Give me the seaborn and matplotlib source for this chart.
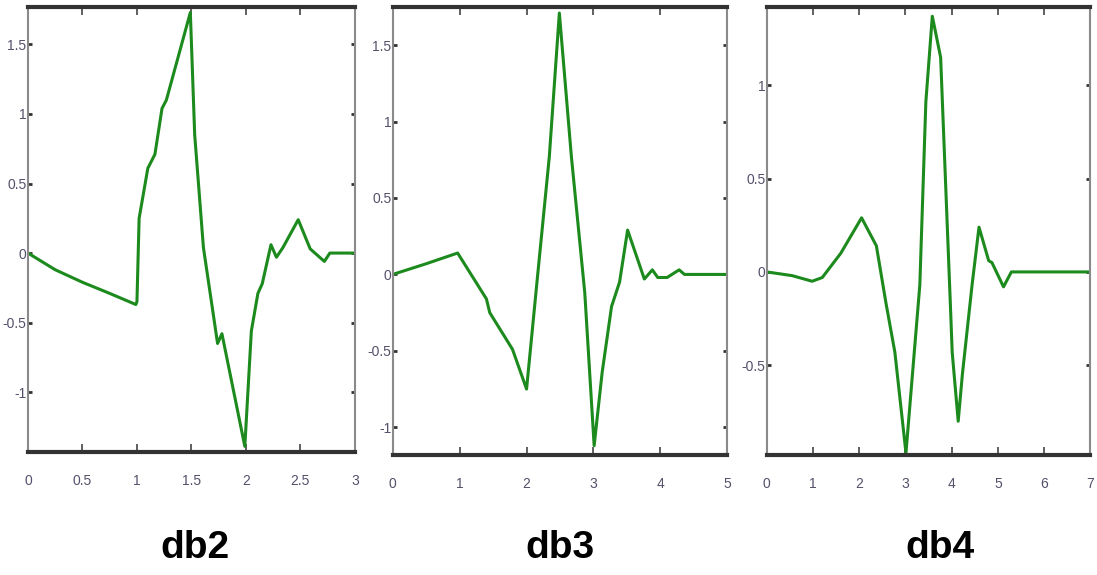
import pandas as pd
import matplotlib
matplotlib.use('Agg')
import matplotlib.pyplot as plt
import seaborn as sns

# db2 wavelet
db2_x = [0.0, 0.25, 0.5, 0.75, 0.99, 1.0, 1.02, 1.10, 1.165, 1.23, 1.27, 1.49,
         1.53, 1.61, 1.74, 1.78, 1.99, 2.05, 2.11, 2.15, 2.23, 2.28, 2.34, 2.48,
         2.59, 2.72, 2.77, 3.0]
db2_y = [0.0, -0.12, -0.21, -0.29, -0.37, -0.35, 0.25, 0.61, 0.71, 1.04, 1.10, 1.73,
         0.85, 0.04, -0.65, -0.58, -1.39, -0.56, -0.29, -0.22, 0.06, -0.03, 0.04, 0.24,
         0.03, -0.06, 0.0, 0.0]

# db3 wavelet
db3_x = [0.0, 0.5, 0.97, 1.40, 1.45, 1.79, 2.0, 2.16, 2.34, 2.49, 2.67, 2.87,
         3.01, 3.13, 3.27, 3.39, 3.51, 3.76, 3.88, 3.96, 4.10, 4.28, 4.36, 5.0]
db3_y = [0.0, 0.07, 0.14, -0.16, -0.25, -0.49, -0.75, -0.03, 0.77, 1.71, 0.77, -0.12,
         -1.12, -0.64, -0.21, -0.05, 0.29, -0.03, 0.03, -0.02, -0.02, 0.03, 0.0, 0.0]

# db4 wavelet
db4_x = [0.0, 0.55, 0.98, 1.2, 1.6, 2.05, 2.37, 2.58, 2.77, 3.01, 3.31, 3.44,
         3.58, 3.76, 3.97, 4.01, 4.14, 4.23, 4.44, 4.59, 4.80, 4.87, 5.12, 5.29, 7.0]
db4_y = [0.0, -0.02, -0.05, -0.03, 0.10, 0.29, 0.14, -0.17, -0.43, -0.97, -0.07, 0.91,
         1.37, 1.15, -0.17, -0.43, -0.80, -0.55, -0.07, 0.24, 0.06, 0.05, -0.08, 0.0, 0.0]

names = ['db2', 'db3', 'db4']
xs = [db2_x, db3_x, db4_x]
ys = [db2_y, db3_y, db4_y]
xlims = [(0, 3), (0, 5), (0, 7)]
ylims = [(-1.43, 1.77), (-1.18, 1.75), (-0.98, 1.42)]
xticks = [[0, 0.5, 1, 1.5, 2, 2.5, 3], [0, 1, 2, 3, 4, 5], [0, 1, 2, 3, 4, 5, 6, 7]]
yticks = [[-1, -0.5, 0, 0.5, 1, 1.5], [-1, -0.5, 0, 0.5, 1, 1.5], [-0.5, 0, 0.5, 1]]
boxes = [(0.0255, 0.214, 0.298, 0.774), (0.358, 0.209, 0.305, 0.779), (0.699, 0.209, 0.295, 0.779)]
title_x = [195, 560, 940]

sns.set_style('white')
plt.rcParams['font.family'] = ['Liberation Sans', 'DejaVu Sans']

fig = plt.figure(figsize=(10.97, 5.75), dpi=100)

for i in range(3):
    ax = fig.add_axes(boxes[i])
    df = pd.DataFrame({'x': xs[i], 'y': ys[i]})
    sns.lineplot(data=df, x='x', y='y', ax=ax, color='#1c8a1c', linewidth=2.2,
                 sort=False, estimator=None)
    ax.set_xlim(*xlims[i])
    ax.set_ylim(*ylims[i])
    ax.set_xticks(xticks[i])
    ax.set_yticks(yticks[i])
    ax.set_xticklabels(['%g' % v for v in xticks[i]])
    ax.set_yticklabels(['%g' % v for v in yticks[i]])
    ax.set_xlabel('')
    ax.set_ylabel('')
    ax.tick_params(axis='x', direction='in', length=6, width=1.2, color='#444444',
                   top=True, bottom=True, labelsize=10, labelcolor='#55506a', pad=16)
    ax.tick_params(axis='y', direction='in', length=3, width=2, color='#333333',
                   left=True, right=True, labelsize=10, labelcolor='#55506a', pad=1)
    for side in ['top', 'bottom']:
        ax.spines[side].set_linewidth(3)
        ax.spines[side].set_color('#333333')
    for side in ['left', 'right']:
        ax.spines[side].set_linewidth(1.5)
        ax.spines[side].set_color('#8a8a8a')
    fig.text(title_x[i] / 1097, 1 - 548 / 575, names[i], ha='center', va='center',
             fontsize=28, fontweight='bold', color='black')

fig.savefig('out.png', dpi=100)
